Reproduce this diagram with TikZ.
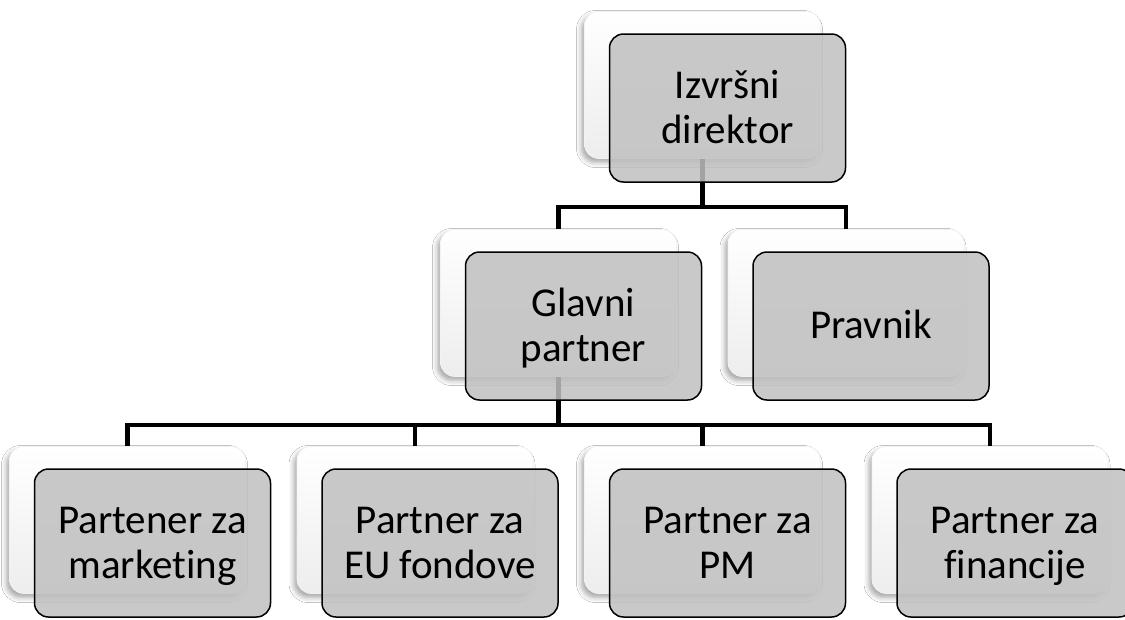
\documentclass[tikz,border=0pt]{standalone}
\usepackage{fontspec}
\setmainfont{Carlito}[Ligatures={NoCommon}]
\usetikzlibrary{shadows.blur}
\definecolor{boxgray}{RGB}{192,192,192}
\newcommand{\twoline}[2]{\raisebox{0pt}[\dimexpr 45pt+0.63em\relax][0pt]{\begin{tabular}[b]{@{}c@{}}#1\\#2\end{tabular}}}
\newcommand{\oneline}[1]{\raisebox{0pt}[0.63em][0pt]{#1}}
\tikzset{
  backbox/.style={rounded corners=14pt, minimum width=236pt, minimum height=147pt,
    inner sep=0pt, top color=white, bottom color=gray!14, draw=gray!10, line width=0.6pt,
    blur shadow={shadow xshift=-3pt, shadow yshift=-4pt, shadow blur radius=5pt, shadow opacity=35}},
  frontbox/.style={rounded corners=14pt, minimum width=236pt, minimum height=148pt,
    inner sep=0pt, fill=boxgray, fill opacity=0.85, text opacity=1, draw=black,
    draw opacity=1, line width=1.5pt,
    font=\fontsize{41}{45}\selectfont},
  conn/.style={line width=4.5pt, black, line join=miter},
  off/.style={shift={(25,23)}}
}
\begin{document}
\begin{tikzpicture}[x=1pt, y=-1pt]
\useasboundingbox (0,0) rectangle (1125,619);
\clip (0,0) rectangle (1125,619);
\fill[white] (0,0) rectangle (1125,619);
% back boxes
\node[backbox] (izb) at (702.5,85) {};
\node[backbox] (gpb) at (558.5,303) {};
\node[backbox] (prb) at (846,303) {};
\node[backbox] (m1b) at (127.5,520) {};
\node[backbox] (m2b) at (415,520) {};
\node[backbox] (m3b) at (702.5,520) {};
\node[backbox] (m4b) at (990,520) {};
% connectors
\coordinate (bus1) at (0,207);
\coordinate (bus2) at (0,425);
\draw[conn] (izb.south) -- (izb.south |- bus1) -| (gpb.north);
\draw[conn] (izb.south |- bus1) -| (prb.north);
\draw[conn] (gpb.south) -- (gpb.south |- bus2) -| (m1b.north);
\draw[conn] (gpb.south |- bus2) -| (m2b.north);
\draw[conn] (gpb.south |- bus2) -| (m3b.north);
\draw[conn] (gpb.south |- bus2) -| (m4b.north);
% front boxes
\node[frontbox] (izf) at ([off]izb.center) {\twoline{Izvršni}{direktor}};
\node[frontbox] (gpf) at ([off]gpb.center) {\twoline{Glavni}{partner}};
\node[frontbox] (prf) at ([off]prb.center) {\oneline{Pravnik}};
\node[frontbox] (m1f) at ([off]m1b.center) {\twoline{Partener za}{marketing}};
\node[frontbox] (m2f) at ([off]m2b.center) {\twoline{Partner za}{EU fondove}};
\node[frontbox] (m3f) at ([off]m3b.center) {\twoline{Partner za}{PM}};
\node[frontbox] (m4f) at ([off]m4b.center) {\twoline{Partner za}{financije}};
\end{tikzpicture}
\end{document}
